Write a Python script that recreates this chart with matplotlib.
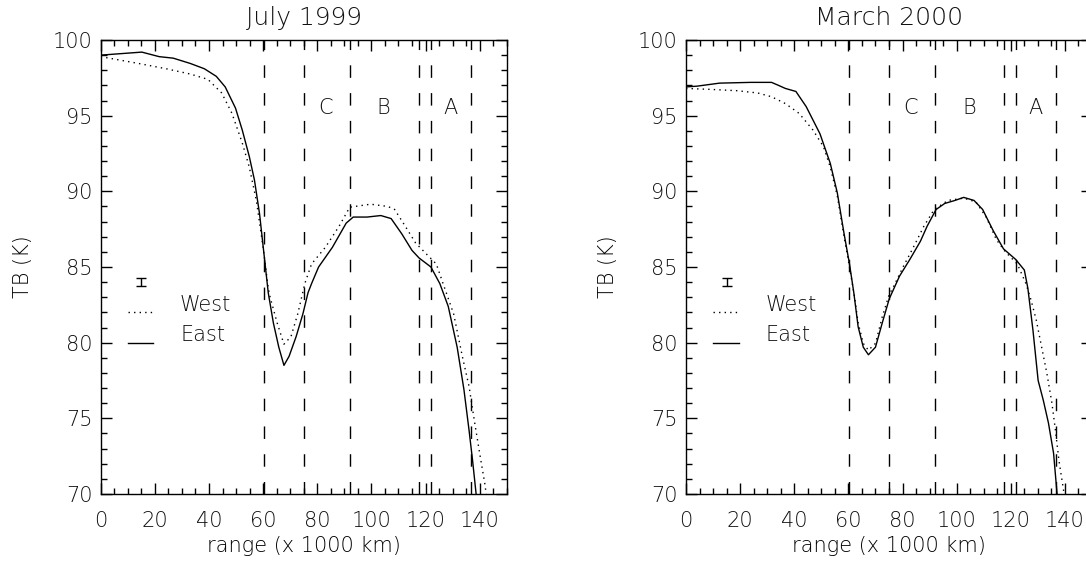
import matplotlib.pyplot as plt
import numpy as np

# July 1999 panel
jul_east_x = [0, 15.2, 21.6, 26.8, 33.1, 38.3, 42.7, 46.0, 49.8, 52.3, 54.9, 56.8, 58.7,
              60.3, 61.9, 63.8, 65.8, 67.7, 69.6, 72.2, 74.7, 76.6, 77.9, 80.5, 85.6,
              90.7, 93.3, 98.4, 103.5, 107.3, 111.2, 115.0, 117.6, 122.0, 125.3, 128.4,
              131.7, 134.2, 136.1, 137.4, 138.7, 139.3]
jul_east_y = [99.0, 99.2, 98.9, 98.8, 98.45, 98.1, 97.6, 96.9, 95.5, 94.05, 92.3, 90.75, 88.5,
              85.9, 83.3, 81.3, 79.7, 78.5, 79.1, 80.4, 81.9, 83.3, 83.9, 85.0, 86.3,
              87.9, 88.3, 88.3, 88.4, 88.2, 87.2, 86.1, 85.6, 85.0, 83.9, 82.4,
              79.7, 76.9, 74.2, 72.2, 70.0, 69.0]
jul_west_x = [0, 14.0, 24.2, 33.1, 39.6, 44.7, 48.5, 52.3, 54.9, 57.5, 60.0, 61.9, 62.6,
              65.2, 67.7, 70.3, 72.8, 75.4, 77.9, 83.0, 88.1, 92.0, 99.7, 106.1, 108.6,
              112.5, 116.3, 120.1, 124.0, 126.5, 130.4, 133.6, 136.1, 138.0, 140.0,
              141.9, 142.8]
jul_west_y = [98.9, 98.45, 98.1, 97.75, 97.4, 96.5, 95.15, 93.2, 91.6, 89.4, 86.3, 83.6, 83.0,
              81.3, 79.9, 80.4, 81.9, 83.9, 85.2, 86.3, 87.7, 88.95, 89.15, 89.0, 88.8,
              87.7, 86.6, 85.9, 85.2, 83.9, 81.9, 79.1, 77.1, 74.9, 72.7,
              70.7, 69.5]

# March 2000 panel
mar_east_x = [0, 4.1, 12.4, 23.9, 31.6, 34.2, 36.7, 40.6, 44.4, 49.5, 53.3, 55.9, 58.4,
              60.4, 62.0, 63.6, 65.5, 67.4, 70.0, 72.5, 75.1, 78.9, 82.7, 86.6, 89.1,
              92.4, 95.6, 99.4, 102.6, 106.4, 109.6, 113.5, 117.3, 121.8, 125.0, 126.3,
              128.2, 130.1, 132.0, 133.9, 135.8, 137.1, 137.4]
mar_east_y = [96.9, 96.95, 97.15, 97.2, 97.2, 97.0, 96.8, 96.6, 95.6, 93.8, 91.85, 89.9, 87.2,
              85.2, 83.3, 81.05, 79.7, 79.2, 79.7, 81.3, 82.9, 84.4, 85.5, 86.7, 87.7,
              88.8, 89.2, 89.4, 89.6, 89.4, 88.8, 87.4, 86.2, 85.5, 84.8, 83.6,
              80.8, 77.5, 76.2, 74.7, 72.7, 70.0, 69.3]
mar_west_x = [0, 8.6, 18.8, 26.5, 31.6, 36.7, 41.8, 46.9, 50.8, 53.3, 55.9, 58.4, 60.4,
              62.3, 63.6, 65.5, 67.4, 70.0, 72.5, 75.1, 76.4, 80.2, 84.0, 87.9, 91.7,
              96.8, 102.6, 107.1, 110.9, 114.7, 118.0, 122.4, 125.6, 127.5, 129.4,
              131.4, 133.3, 135.2, 136.5, 137.8, 139.7, 140.2]
mar_west_y = [96.8, 96.74, 96.65, 96.5, 96.25, 95.8, 95.15, 94.05, 92.95, 91.6, 89.7, 87.0, 85.0,
              83.0, 81.3, 79.95, 79.5, 79.95, 81.7, 83.2, 83.6, 85.0, 86.3, 87.7, 88.8,
              89.4, 89.55, 89.3, 88.3, 86.8, 86.0, 85.2, 83.9, 82.8, 81.5,
              79.7, 78.0, 76.0, 74.2, 72.2, 70.0, 69.4]

zone_lines = [60.3, 75.0, 92.0, 117.6, 122.0, 136.8]
zone_names = ["C", "B", "A"]
zone_name_x = [83.0, 104.5, 129.1]

panels = [
    ("July 1999", jul_west_x, jul_west_y, jul_east_x, jul_east_y),
    ("March 2000", mar_west_x, mar_west_y, mar_east_x, mar_east_y),
]

plt.rcParams['font.family'] = ['DejaVu Sans']
ink = '#111111'
plt.rcParams['text.color'] = ink

fig = plt.figure(figsize=(10.86, 5.65), dpi=100)
W, H = 1086.0, 565.0
lefts = [100.7, 686.0]

for left, (title, wx, wy, ex, ey) in zip(lefts, panels):
    ax = fig.add_axes([left / W, (H - 494) / H, 406 / W, 454 / H])
    ax.set_xlim(0, 150)
    ax.set_ylim(70, 100)

    for xv in zone_lines:
        ax.axvline(xv, color='k', lw=1.0, dashes=(9, 11))
    for name, xn in zip(zone_names, zone_name_x):
        ax.text(xn, 95.5, name, ha='center', va='center', fontsize=15, fontweight='light')

    ax.plot(wx, wy, color='k', lw=1.0, linestyle=(0, (1, 3)))
    ax.plot(ex, ey, color='k', lw=1.0)

    # legend drawn by hand like the original
    ax.errorbar([15.0], [84.0], yerr=0.25, color='k', lw=1.0, capsize=3.5, capthick=1.0)
    ax.plot([10, 19.5], [82.05, 82.05], color='k', lw=1.0, linestyle=(0, (1, 3)))
    ax.plot([10, 19.5], [80.0, 80.0], color='k', lw=1.0)
    ax.text(29.3, 82.5, "West", ha='left', va='center', fontsize=15, fontweight='light')
    ax.text(29.3, 80.5, "East", ha='left', va='center', fontsize=15, fontweight='light')

    ax.set_xticks(np.arange(0, 141, 20))
    ax.set_xticks(np.arange(0, 151, 5), minor=True)
    ax.set_yticks(np.arange(70, 101, 5))
    ax.set_yticks(np.arange(70, 101, 1), minor=True)
    ax.tick_params(which='both', direction='in', top=True, right=True, labelsize=15,
                   labelcolor=ink, width=1.0)
    ax.tick_params(which='major', length=8)
    ax.tick_params(which='minor', length=4)
    ax.tick_params(axis='x', which='major', pad=12)
    ax.tick_params(axis='y', which='major', pad=6)
    for lab in ax.get_xticklabels() + ax.get_yticklabels():
        lab.set_fontweight('light')

    ax.set_title(title, fontsize=18, fontweight='light', pad=11)
    ax.set_xlabel("range (x 1000 km)", fontsize=15, fontweight='light', labelpad=4)
    ax.set_ylabel("TB (K)", fontsize=15, fontweight='light', labelpad=14)
    for sp in ax.spines.values():
        sp.set_linewidth(1.0)

fig.savefig("out.png", dpi=100)
